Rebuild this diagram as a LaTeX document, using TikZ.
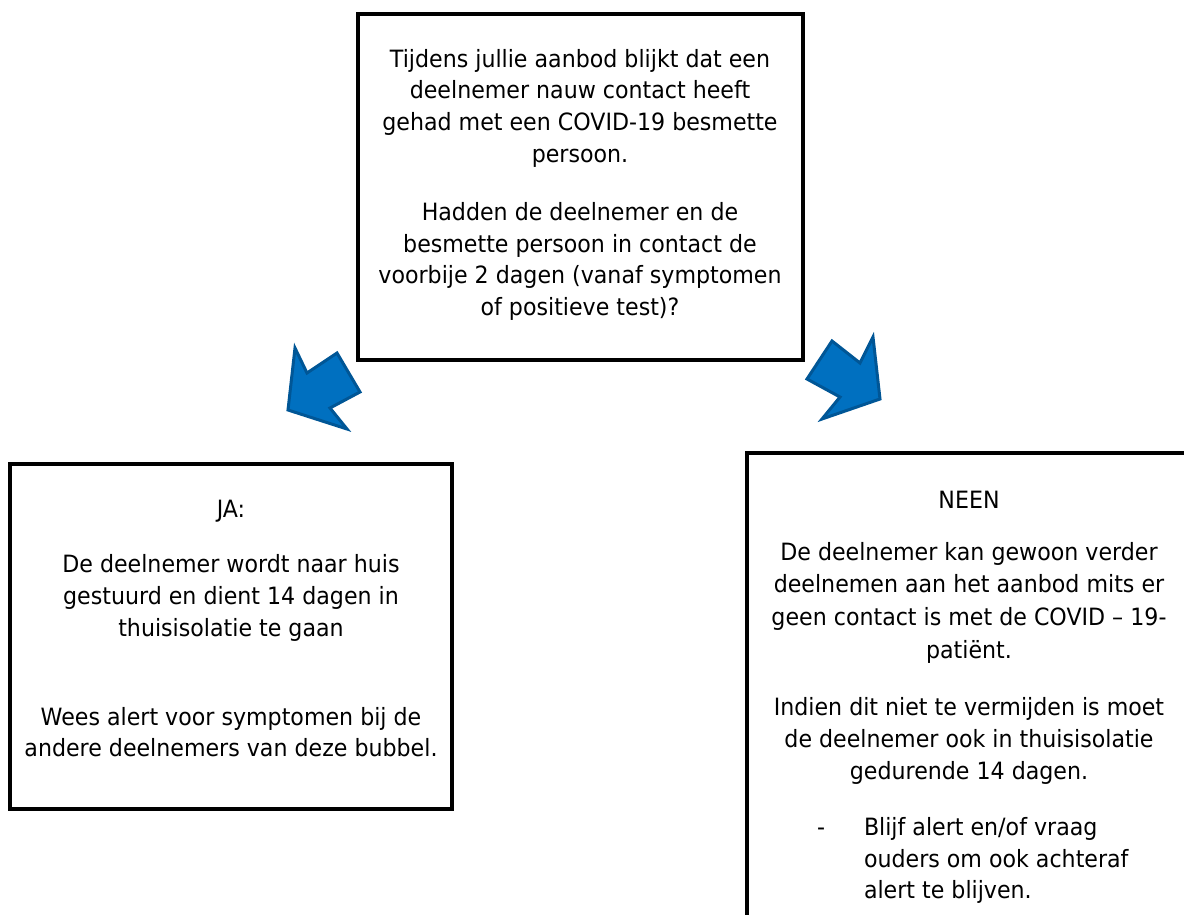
\documentclass[tikz,border=0pt]{standalone}
\usepackage{fontspec}
\setmainfont{DejaVu Sans}[FakeStretch=0.93]
\definecolor{arrowfill}{RGB}{0,112,192}
\definecolor{arrowline}{RGB}{0,86,150}
\begin{document}
\begin{tikzpicture}[x=1pt,y=-1pt,
  box/.style={draw=black, line width=4pt, fill=white, inner sep=0, outer sep=0},
  txt/.style={anchor=base, inner sep=0, outer sep=0, font=\fontsize{23.8}{28}\selectfont},
  txtl/.style={txt, anchor=base west},
  blockarrow/.style={fill=arrowfill, draw=arrowline, line width=3pt, line join=miter}]
\useasboundingbox (0,0) rectangle (1184,915);
\clip (0,0) rectangle (1184,915);
% boxes
\node[box, minimum width=445pt, minimum height=346pt] (top) at (580.5,187) {};
\node[box, minimum width=442pt, minimum height=345pt] (left) at (231,636.5) {};
\node[box, minimum width=444pt, minimum height=560pt] (right) at (969,733) {};
% arrows
\draw[blockarrow] (295,348) -- (307,373) -- (337,353) -- (360,392) -- (330,408) -- (347,429) -- (288,410) -- cycle;
\draw[blockarrow] (832,341) -- (860,363) -- (873,337) -- (880,399) -- (822,419) -- (840,397) -- (807,379) -- cycle;
% top text
\node[txt] (t1) at (580,68) {Tijdens jullie aanbod blijkt dat een};
\node[txt] (t2) at (580,99) {deelnemer nauw contact heeft};
\node[txt] (t3) at (580,131) {gehad met een COVID-19 besmette};
\node[txt] (t4) at (580,163) {persoon.};
\node[txt] (t5) at (580,220) {Hadden de deelnemer en de};
\node[txt] (t6) at (580,252) {besmette persoon in contact de};
\node[txt] (t7) at (580,283) {voorbije 2 dagen (vanaf symptomen};
\node[txt] (t8) at (580,315) {of positieve test)?};
% left text
\node[txt] (l1) at (231,517) {JA:};
\node[txt] (l2) at (231,572) {De deelnemer wordt naar huis};
\node[txt] (l3) at (231,604) {gestuurd en dient 14 dagen in};
\node[txt] (l4) at (231,636) {thuisisolatie te gaan};
\node[txt] (l5) at (231,725) {Wees alert voor symptomen bij de};
\node[txt] (l6) at (231,756) {andere deelnemers van deze bubbel.};
% right text
\node[txt] (r1) at (969,508) {NEEN};
\node[txt] (r2) at (969,560) {De deelnemer kan gewoon verder};
\node[txt] (r3) at (969,592) {deelnemen aan het aanbod mits er};
\node[txt] (r4) at (969,625) {geen contact is met de COVID – 19-};
\node[txt] (r5) at (969,658) {patiënt.};
\node[txt] (r6) at (969,715) {Indien dit niet te vermijden is moet};
\node[txt] (r7) at (969,747) {de deelnemer ook in thuisisolatie};
\node[txt] (r8) at (969,779) {gedurende 14 dagen.};
\node[txtl] (rd) at (817,835) {-};
\node[txtl] (r9) at (864,835) {Blijf alert en/of vraag};
\node[txtl] (r10) at (864,867) {ouders om ook achteraf};
\node[txtl] (r11) at (864,898) {alert te blijven.};
\end{tikzpicture}
\end{document}
